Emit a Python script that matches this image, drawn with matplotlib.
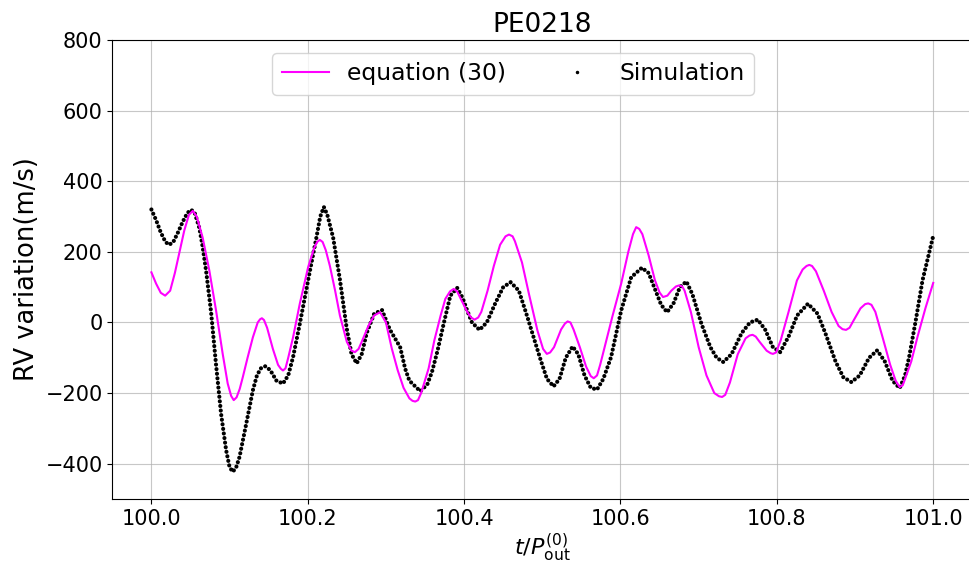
import matplotlib
matplotlib.use("Agg")
import matplotlib.pyplot as plt
from matplotlib.lines import Line2D

# Simulation (black dots)
sim_t = [100.000, 100.006, 100.012, 100.018, 100.0227, 100.028, 100.034, 100.040, 100.046, 100.0506,
         100.055, 100.0613, 100.0655, 100.0699, 100.0763, 100.0827, 100.0892, 100.0956, 100.1000, 100.1041,
         100.1085, 100.1127, 100.1213, 100.1298, 100.1350, 100.1400, 100.1457, 100.1520, 100.1600, 100.1683,
         100.1750, 100.1812, 100.1898, 100.2004, 100.2111, 100.2160, 100.2206, 100.2250, 100.2325, 100.2411,
         100.2497, 100.2560, 100.2626, 100.2690, 100.2754, 100.2850, 100.2950, 100.3050, 100.3182, 100.3246,
         100.3300, 100.3440, 100.3530, 100.3589, 100.3660, 100.3738, 100.3824, 100.3911, 100.3980, 100.4039,
         100.4100, 100.4197, 100.4290, 100.4400, 100.4500, 100.4595, 100.4700, 100.4810, 100.4900, 100.4980,
         100.5060, 100.5144, 100.5220, 100.5300, 100.5388, 100.5460, 100.5540, 100.5620, 100.5700, 100.5780,
         100.5880, 100.6009, 100.6137, 100.6274, 100.6360, 100.6440, 100.6520, 100.6596, 100.6680, 100.6760,
         100.6843, 100.6920, 100.7036, 100.7150, 100.7230, 100.7315, 100.7420, 100.7550, 100.7656, 100.7756,
         100.7850, 100.7950, 100.8042, 100.8150, 100.8260, 100.8398, 100.8520, 100.8620, 100.8750, 100.8850,
         100.8954, 100.9060, 100.9180, 100.9284, 100.9380, 100.9480, 100.9571, 100.9640, 100.9692, 100.9777,
         100.9863, 101.000]
sim_v = [320, 290, 255, 228, 220, 228, 255, 285, 310, 319,
         313, 268, 215, 147, 30, -120, -260, -362, -410, -423,
         -410, -381, -287, -192, -150, -130, -124, -135, -165, -173,
         -150, -98, -4, 119, 241, 300, 327, 305, 240, 122,
         -15, -90, -116, -90, -30, 25, 35, -20, -70, -131,
         -165, -195, -175, -140, -80, -4, 76, 98, 70, 34,
         0, -21, 0, 55, 100, 114, 90, 15, -50, -107,
         -160, -181, -160, -100, -68, -90, -150, -185, -190, -160,
         -98, 34, 128, 155, 140, 95, 50, 29, 55, 100,
         116, 80, -4, -70, -100, -112, -90, -30, 0, 8,
         -20, -70, -84, -40, 20, 53, 25, -30, -110, -155,
         -169, -150, -100, -79, -110, -165, -186, -150, -98, 6,
         119, 245]

# equation (30) (magenta line)
eq_t = [100.000, 100.006, 100.012, 100.0176, 100.024, 100.030, 100.036, 100.042, 100.048, 100.053,
        100.058, 100.0655, 100.0741, 100.0827, 100.0912, 100.0976, 100.1020, 100.1053, 100.1090, 100.1130,
        100.1169, 100.1230, 100.1298, 100.1360, 100.1390, 100.1413, 100.1440, 100.1480, 100.1554, 100.1620,
        100.1655, 100.1683, 100.1715, 100.1750, 100.1812, 100.1898, 100.2004, 100.2080, 100.2120, 100.2154,
        100.2190, 100.2230, 100.2283, 100.2350, 100.2411, 100.2500, 100.2560, 100.2604, 100.2650, 100.2690,
        100.2775, 100.2850, 100.2925, 100.3000, 100.3075, 100.3150, 100.3225, 100.3300, 100.3340, 100.3375,
        100.3410, 100.3450, 100.3546, 100.3620, 100.3700, 100.3760, 100.3820, 100.3867, 100.3910, 100.3950,
        100.4040, 100.4090, 100.4133, 100.4180, 100.4220, 100.4300, 100.4380, 100.4460, 100.4530, 100.4574,
        100.4620, 100.4650, 100.4740, 100.4830, 100.4938, 100.5010, 100.5058, 100.5100, 100.5150, 100.5240,
        100.5290, 100.5324, 100.5360, 100.5400, 100.5480, 100.5560, 100.5620, 100.5658, 100.5700, 100.5740,
        100.5820, 100.5900, 100.6009, 100.6100, 100.6160, 100.6201, 100.6240, 100.6280, 100.6360, 100.6440,
        100.6500, 100.6544, 100.6600, 100.6650, 100.6710, 100.6750, 100.6790, 100.6820, 100.6900, 100.7000,
        100.7100, 100.7200, 100.7260, 100.7300, 100.7340, 100.7400, 100.7500, 100.7600, 100.7650, 100.7690,
        100.7730, 100.7780, 100.7870, 100.7920, 100.7950, 100.7990, 100.8050, 100.8150, 100.8257, 100.8330,
        100.8380, 100.8415, 100.8450, 100.8500, 100.8600, 100.8700, 100.8790, 100.8840, 100.8885, 100.8930,
        100.8980, 100.9070, 100.9130, 100.9169, 100.9210, 100.9260, 100.9350, 100.9450, 100.9520, 100.9571,
        100.9610, 100.9640, 100.9720, 100.9800, 100.9900, 101.000]
eq_v = [142, 110, 84, 76, 90, 140, 200, 260, 305, 316,
        300, 241, 147, 34, -89, -173, -208, -220, -212, -188,
        -155, -100, -42, 0, 9, 12, 7, -15, -75, -120,
        -131, -136, -130, -100, -42, 53, 156, 210, 228, 234,
        228, 205, 160, 90, 20, -55, -80, -84, -75, -55,
        -10, 20, 29, 0, -74, -135, -185, -215, -222, -224,
        -220, -200, -130, -50, 20, 67, 88, 95, 88, 70,
        30, 14, 8, 14, 30, 90, 160, 220, 244, 249,
        244, 230, 170, 80, -23, -75, -89, -85, -70, -20,
        -3, 3, 0, -20, -70, -125, -152, -158, -150, -120,
        -50, 20, 110, 200, 250, 270, 265, 250, 190, 120,
        85, 72, 76, 90, 102, 105, 102, 90, 30, -70,
        -150, -200, -209, -211, -205, -170, -90, -45, -37, -35,
        -40, -55, -80, -87, -89, -85, -50, 30, 119, 150,
        160, 163, 160, 145, 90, 30, -10, -19, -21, -15,
        5, 40, 52, 54, 50, 30, -40, -120, -165, -183,
        -178, -160, -110, -40, 40, 112]

x_ticks = [100.0, 100.2, 100.4, 100.6, 100.8, 101.0]
y_ticks = [-400, -200, 0, 200, 400, 600, 800]

fig = plt.figure(figsize=(9.69, 5.62), dpi=100)
ax = fig.add_axes([0.1159, 0.1121, 0.8875, 0.8167])

ax.plot(eq_t, eq_v, color='#ff00ff', lw=1.5, solid_joinstyle='round', zorder=3)
ax.plot(sim_t, sim_v, color='black', lw=3.0, ls=(0, (0.01, 1.1)),
        dash_capstyle='round', zorder=2)

h_eq = Line2D([], [], color='#ff00ff', lw=1.5)
h_sim = Line2D([], [], color='black', ls='none', marker='.', markersize=3)
ax.legend([h_eq, h_sim], ['equation (30)', 'Simulation'], ncol=2,
          loc='upper center', bbox_to_anchor=(0.466, 0.9717), borderaxespad=0,
          fontsize=16.9)

ax.set_xlim(99.95, 101.05)
ax.set_ylim(-500, 800)
ax.set_xticks(x_ticks)
ax.set_xticklabels([f'{v:.1f}' for v in x_ticks])
ax.set_yticks(y_ticks)
ax.set_yticklabels([f'{v}'.replace('-', '\u2212') for v in y_ticks])
ax.tick_params(labelsize=15)
ax.grid(True, color='#b0b0b0', lw=0.8, alpha=0.7)
ax.set_axisbelow(True)

ax.set_title('PE0218', fontsize=19)
ax.set_ylabel('RV variation(m/s)', fontsize=18.5)
ax.set_xlabel(r'$t/P_{\rm out}^{(0)}$', fontsize=16, labelpad=2)

fig.savefig('out.png', dpi=100)
